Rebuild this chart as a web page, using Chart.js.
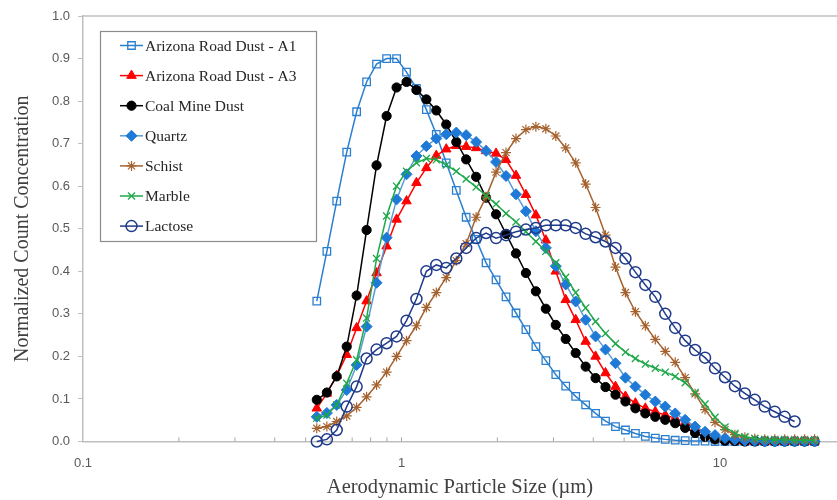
<!DOCTYPE html>
<html><head><meta charset="utf-8">
<script src="https://cdn.jsdelivr.net/npm/chart.js@4.4.1/dist/chart.umd.min.js"></script>
<style>html,body{margin:0;padding:0;background:#fff;overflow:hidden}canvas{display:block}</style>
</head><body>
<canvas id="c" width="837" height="500"></canvas>
<script>
// Aerodynamic particle size channels (µm)
const sizes = [0.542,0.583,0.626,0.673,0.723,0.777,0.835,0.898,0.965,1.037,1.114,1.197,1.286,1.382,1.486,1.596,1.715,1.843,1.981,2.129,2.288,2.458,2.642,2.839,3.051,3.278,3.523,3.786,4.068,4.371,4.698,5.048,5.425,5.829,6.264,6.732,7.234,7.774,8.354,8.977,9.647,10.37,11.14,11.97,12.86,13.82,14.86,15.96,17.15,18.43,19.81];

const seriesNames = ['Arizona Road Dust - A1','Arizona Road Dust - A3','Coal Mine Dust','Quartz','Schist','Marble','Lactose'];

const ardA1 = [0.33,0.447,0.565,0.68,0.775,0.845,0.887,0.900,0.900,0.868,0.830,0.780,0.722,0.655,0.590,0.527,0.475,0.420,0.380,0.340,0.302,0.263,0.223,0.190,0.157,0.130,0.106,0.086,0.066,0.048,0.035,0.027,0.019,0.012,0.008,0.005,0.003,0.002,0.001,0.001,0,0,0,0,0,0,0,0,0,0,0];
const ardA3 = [0.078,0.113,0.155,0.204,0.267,0.330,0.396,0.459,0.522,0.565,0.608,0.643,0.672,0.687,0.695,0.693,0.690,0.683,0.677,0.662,0.625,0.580,0.532,0.473,0.400,0.333,0.286,0.235,0.200,0.161,0.129,0.106,0.090,0.078,0.070,0.062,0.055,0.045,0.032,0.020,0.010,0.004,0.001,0,0,0,0,0,0,0,0];
const coal = [0.098,0.115,0.153,0.223,0.343,0.497,0.649,0.765,0.832,0.845,0.826,0.804,0.778,0.745,0.704,0.663,0.622,0.573,0.534,0.488,0.442,0.396,0.353,0.312,0.274,0.241,0.208,0.176,0.149,0.128,0.110,0.094,0.078,0.066,0.058,0.051,0.043,0.032,0.020,0.011,0.005,0.002,0.001,0,0,0,0,0,0,0,0];
const quartz = [0.058,0.067,0.086,0.121,0.180,0.270,0.373,0.479,0.569,0.628,0.671,0.694,0.712,0.722,0.726,0.720,0.704,0.683,0.657,0.624,0.581,0.541,0.494,0.455,0.412,0.369,0.329,0.286,0.247,0.216,0.184,0.150,0.129,0.110,0.094,0.082,0.066,0.051,0.035,0.023,0.015,0.008,0.004,0.002,0.001,0,0,0,0,0,0];
const schist = [0.031,0.035,0.047,0.060,0.080,0.105,0.133,0.163,0.200,0.237,0.272,0.315,0.350,0.385,0.425,0.465,0.527,0.575,0.633,0.679,0.712,0.733,0.740,0.735,0.718,0.690,0.655,0.605,0.550,0.485,0.410,0.350,0.305,0.272,0.240,0.212,0.186,0.150,0.112,0.075,0.045,0.028,0.016,0.010,0.007,0.005,0.005,0.005,0.005,0.005,0.005];
const marble = [0.055,0.062,0.086,0.137,0.192,0.290,0.430,0.530,0.600,0.635,0.655,0.665,0.662,0.650,0.635,0.617,0.598,0.578,0.558,0.536,0.516,0.493,0.470,0.447,0.420,0.386,0.350,0.314,0.282,0.254,0.230,0.210,0.195,0.182,0.172,0.163,0.153,0.138,0.115,0.088,0.057,0.034,0.019,0.011,0.007,0.005,0.004,0.004,0.003,0.003,0.003];
const lactose = [0.000,0.005,0.027,0.082,0.129,0.195,0.216,0.231,0.247,0.284,0.335,0.400,0.415,0.408,0.430,0.455,0.478,0.490,0.478,0.485,0.493,0.498,0.502,0.508,0.508,0.508,0.502,0.488,0.480,0.470,0.455,0.430,0.398,0.368,0.340,0.300,0.267,0.237,0.215,0.197,0.172,0.151,0.130,0.113,0.098,0.082,0.070,0.058,0.047];

const xMajorTicks = [0.1, 1, 10];
const xTickLabels = ['0.1', '1', '10'];
const xTitle = 'Aerodynamic Particle Size (µm)';
const yTitle = 'Normalized Count Concentration';

function pts(vals){ return vals.map((v,i)=>({x:sizes[i], y:v})); }

const styles = [
  {c:'#2b7fcf', line:'#2b7fcf', ps:'rect', r:5.3, fill:'rgba(255,255,255,0)', bw:1.3},
  {c:'#ff0000', line:'#ff0000', ps:'triangle', r:5.5, fill:'#ff0000', bw:1},
  {c:'#000000', line:'#000000', ps:'circle', r:4.6, fill:'#000000', bw:1},
  {c:'#1e7ad6', line:'#5b9bd5', ps:'rectRot', r:5.5, fill:'#1e7ad6', bw:1},
  {c:'#a5622e', line:'#a5622e', ps:'star', r:5, fill:'#a5622e', bw:1.2},
  {c:'#1fa84a', line:'#1fa84a', ps:'crossRot', r:5, fill:'#1fa84a', bw:1.3},
  {c:'#1f3a8a', line:'#1f3a8a', ps:'circle', r:5.5, fill:'rgba(255,255,255,0)', bw:1.5}
];
const allVals = [ardA1, ardA3, coal, quartz, schist, marble, lactose];

const datasets = allVals.map((vals,i)=>{
  const s = styles[i];
  return {
    label: seriesNames[i], data: pts(vals),
    borderColor: s.line, backgroundColor: s.fill, borderWidth: 1.5,
    pointStyle: s.ps, pointRadius: s.r, pointBorderColor: s.c,
    pointBackgroundColor: s.fill, pointBorderWidth: s.bw,
    tension: 0, fill: false, order: 7 - i, clip: false
  };
});

function drawMarker(ctx, ds, x, y){
  ctx.save();
  ctx.fillStyle = ds.pointBackgroundColor;
  ctx.strokeStyle = ds.pointBorderColor;
  ctx.lineWidth = ds.pointBorderWidth;
  if (Chart.helpers && Chart.helpers.drawPoint) {
    Chart.helpers.drawPoint(ctx, {pointStyle: ds.pointStyle, radius: ds.pointRadius, borderWidth: ds.pointBorderWidth, rotation: 0}, x, y);
  } else {
    ctx.beginPath(); ctx.arc(x, y, ds.pointRadius, 0, Math.PI*2); ctx.fill(); ctx.stroke();
  }
  ctx.restore();
}

const decor = {
  id: 'decor',
  afterDatasetsDraw(chart){
    const ctx = chart.ctx, ca = chart.chartArea, xs = chart.scales.x;
    ctx.save();
    // top border
    ctx.strokeStyle = '#bfbfbf'; ctx.lineWidth = 1.5;
    ctx.beginPath(); ctx.moveTo(ca.left, ca.top); ctx.lineTo(ca.right, ca.top); ctx.stroke();
    // minor ticks on x axis (inside)
    ctx.lineWidth = 1; ctx.strokeStyle = '#a6a6a6';
    [0.1,1,10].forEach(d=>{ for(let k=1;k<=9;k++){ const v=d*k; if(v<=xs.min||v>=xs.max) continue; const px=xs.getPixelForValue(v); ctx.beginPath(); ctx.moveTo(px, ca.bottom); ctx.lineTo(px, ca.bottom-4); ctx.stroke(); } });
    // legend box
    const bx=100, by=31, bw=216, bh=210;
    ctx.fillStyle='#ffffff'; ctx.fillRect(bx,by,bw,bh);
    ctx.strokeStyle='#8c8c8c'; ctx.lineWidth=1.2; ctx.strokeRect(bx+0.5,by+0.5,bw,bh);
    ctx.font = '15.5px "Liberation Serif", "Times New Roman", serif';
    ctx.textBaseline='middle'; ctx.textAlign='left';
    chart.data.datasets.forEach((ds,i)=>{
      const y = 45.5 + i*30.1;
      ctx.save();
      ctx.strokeStyle = ds.borderColor; ctx.lineWidth = 1.5;
      ctx.beginPath(); ctx.moveTo(120,y); ctx.lineTo(143,y); ctx.stroke();
      ctx.restore();
      drawMarker(ctx, ds, 131.5, y);
      ctx.fillStyle='#262626';
      ctx.fillText(ds.label, 145, y+1);
    });
    ctx.restore();
  }
};

new Chart(document.getElementById('c'), {
  type: 'line',
  data: { datasets },
  plugins: [decor],
  options: {
    responsive: false, animation: false, devicePixelRatio: 1,
    layout: { autoPadding: false, padding: { top: 16, right: 0, left: 0, bottom: 0 } },
    plugins: { legend: { display: false }, tooltip: { enabled: false } },
    scales: {
      x: {
        type: 'logarithmic', min: 0.1, max: 23.3,
        afterFit: s => { s.height = 58.5; s.paddingRight = 0; s.paddingLeft = 0; },
        grid: { display: true, drawOnChartArea: false, drawTicks: false },
        border: { display: true, color: '#bfbfbf', width: 1.5 },
        ticks: {
          autoSkip: false, maxRotation: 0, padding: 14, color: '#595959',
          font: { family: 'Liberation Sans', size: 13 },
          callback: function(value){
            for (let i=0;i<xMajorTicks.length;i++){ if (Math.abs(value - xMajorTicks[i]) < xMajorTicks[i]*1e-6) return xTickLabels[i]; }
            return '';
          }
        },
        title: { display: true, text: xTitle, color: '#404040', font: { family: 'Liberation Serif', size: 20.5 }, padding: { top: 0, bottom: 0 } }
      },
      y: {
        min: 0, max: 1,
        afterFit: s => { s.width = 83; s.paddingRight = 0; s.paddingLeft = 0; },
        grid: { drawOnChartArea: false, drawTicks: true, tickLength: 5, color: '#bfbfbf' },
        border: { display: true, color: '#bfbfbf', width: 1.5 },
        ticks: { stepSize: 0.1, padding: 8, color: '#595959', font: { family: 'Liberation Sans', size: 13 }, callback: v => Number(v).toFixed(1) },
        title: { display: true, text: yTitle, color: '#404040', font: { family: 'Liberation Serif', size: 20 }, padding: { top: 11, bottom: 0 } }
      }
    }
  }
});
</script>
</body></html>
